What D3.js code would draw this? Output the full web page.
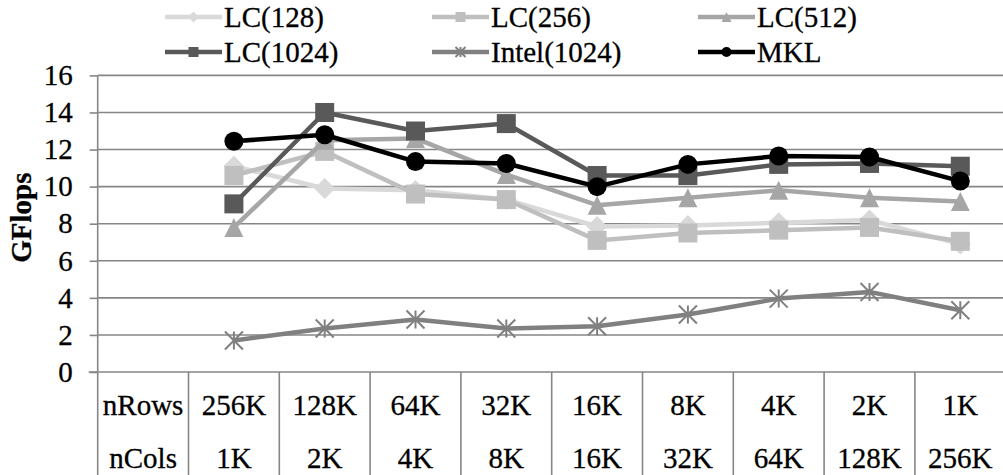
<!DOCTYPE html>
<html>
<head>
<meta charset="utf-8">
<script src="https://cdn.jsdelivr.net/npm/d3@7"></script>
<style>
  html, body { margin: 0; padding: 0; background: #fff; }
  svg { display: block; }
</style>
</head>
<body>
<svg id="chart" width="1003" height="475"></svg>
<script>
// Problem shapes (rows x cols) along the x axis
const rowLabels = ["256K", "128K", "64K", "32K", "16K", "8K", "4K", "2K", "1K"];
const colLabels = ["1K", "2K", "4K", "8K", "16K", "32K", "64K", "128K", "256K"];
const rowHeader = "nRows";
const colHeader = "nCols";

// Performance in GFlops
const lc128   = [11.1, 9.9, 9.8, 9.3, 7.85, 7.9, 8.05, 8.2, 6.9];
const lc256   = [10.6, 11.9, 9.6, 9.3, 7.1, 7.5, 7.65, 7.8, 7.05];
const lc512   = [7.8, 12.5, 12.6, 10.65, 9.0, 9.4, 9.8, 9.4, 9.2];
const lc1024  = [9.07, 14.0, 13.0, 13.4, 10.6, 10.6, 11.2, 11.25, 11.1];
const intel1024 = [1.7, 2.35, 2.83, 2.35, 2.47, 3.1, 3.96, 4.32, 3.33];
const mkl     = [12.45, 12.8, 11.35, 11.25, 10.0, 11.2, 11.65, 11.6, 10.3];

const yTicks = [0, 2, 4, 6, 8, 10, 12, 14, 16];

const series = [
  { name: "LC(128)",     values: lc128,     color: "#d9d9d9", marker: "diamond" },
  { name: "LC(256)",     values: lc256,     color: "#bfbfbf", marker: "square" },
  { name: "LC(512)",     values: lc512,     color: "#a6a6a6", marker: "triangle" },
  { name: "LC(1024)",    values: lc1024,    color: "#595959", marker: "square" },
  { name: "Intel(1024)", values: intel1024, color: "#808080", marker: "star" },
  { name: "MKL",         values: mkl,       color: "#000000", marker: "circle" }
];

const svg = d3.select("#chart");
const FONT = 29;
const SERIF = '"Liberation Serif", "Times New Roman", serif';
const gridColor = "#868686";

function serifText(sel) {
  return sel.style("font-family", SERIF).style("font-size", FONT + "px")
    .attr("fill", "#000").attr("stroke", "#000").attr("stroke-width", 0.3);
}

// First band holds the row/column headers of the data table
const x = d3.scaleBand()
  .domain([rowHeader].concat(rowLabels))
  .range([97.7, 1005.7])
  .padding(0);

const y = d3.scaleLinear().domain([0, 16]).range([372, 75.4]);

const tableBottom = 475;

// Horizontal gridlines
svg.append("g")
  .selectAll("line")
  .data(yTicks.filter(d => d > 0))
  .join("line")
  .attr("x1", x.range()[0]).attr("x2", x.range()[1])
  .attr("y1", d => y(d)).attr("y2", d => y(d))
  .attr("stroke", gridColor).attr("stroke-width", 1.6);

// Y axis with outward ticks
const yAxis = d3.axisLeft(y).tickValues(yTicks).tickSize(8).tickPadding(17).tickFormat(d3.format("d"));
const yg = svg.append("g").attr("transform", `translate(${x.range()[0]},0)`).call(yAxis);
yg.attr("font-family", null).attr("font-size", null);
yg.select(".domain").remove();
yg.selectAll(".tick line").attr("stroke", gridColor).attr("stroke-width", 1.6);
serifText(yg.selectAll(".tick text"));

// Vertical axis line running down through the table
svg.append("line")
  .attr("x1", x.range()[0]).attr("x2", x.range()[0])
  .attr("y1", y(16)).attr("y2", tableBottom)
  .attr("stroke", gridColor).attr("stroke-width", 1.6);

// Category axis line
svg.append("line")
  .attr("x1", x.range()[0] - 9).attr("x2", x.range()[1])
  .attr("y1", y(0)).attr("y2", y(0))
  .attr("stroke", gridColor).attr("stroke-width", 1.6);

// Table column separators
svg.append("g")
  .selectAll("line")
  .data(x.domain().slice(1))
  .join("line")
  .attr("x1", d => x(d)).attr("x2", d => x(d))
  .attr("y1", y(0)).attr("y2", tableBottom)
  .attr("stroke", gridColor).attr("stroke-width", 1.6);

// Table cell text
const rowsText = [rowHeader].concat(rowLabels);
const colsText = [colHeader].concat(colLabels);
const tbl = svg.append("g").attr("text-anchor", "middle");
serifText(tbl.selectAll("text.r")
  .data(rowsText)
  .join("text")
  .attr("class", "r")
  .attr("x", (d, i) => x(x.domain()[i]) + x.bandwidth() / 2)
  .attr("y", 415)
  .text(d => d));
serifText(tbl.selectAll("text.c")
  .data(colsText)
  .join("text")
  .attr("class", "c")
  .attr("x", (d, i) => x(x.domain()[i]) + x.bandwidth() / 2)
  .attr("y", 468)
  .text(d => d));

// Y axis title
serifText(svg.append("text")
  .attr("transform", `translate(31,${(y(0) + y(16)) / 2 - 6}) rotate(-90)`)
  .attr("text-anchor", "middle")
  .style("font-weight", "bold")
  .text("GFlops"));

// Marker drawing
function drawMarker(g, type, color, size) {
  const s = size;
  if (type === "circle") {
    g.append("circle").attr("r", s / 2).attr("fill", color);
  } else if (type === "square") {
    g.append("rect").attr("x", -s / 2).attr("y", -s / 2).attr("width", s).attr("height", s).attr("fill", color);
  } else if (type === "diamond") {
    const h = s * 0.55;
    g.append("path").attr("d", `M0,${-h}L${h},0L0,${h}L${-h},0Z`).attr("fill", color);
  } else if (type === "triangle") {
    const h = s / 2;
    g.append("path").attr("d", `M0,${-h}L${h},${h}L${-h},${h}Z`).attr("fill", color);
  } else if (type === "star") {
    const h = s / 2;
    g.append("path")
      .attr("d", `M${-h},${-h}L${h},${h}M${-h},${h}L${h},${-h}M0,${-h}L0,${h}`)
      .attr("stroke", color).attr("stroke-width", 2).attr("fill", "none");
  }
}

const line = d3.line()
  .x((d, i) => x(rowLabels[i]) + x.bandwidth() / 2)
  .y(d => y(d));

const plot = svg.append("g");
series.forEach(s => {
  const g = plot.append("g");
  g.append("path")
    .attr("d", line(s.values))
    .attr("fill", "none")
    .attr("stroke", s.color)
    .attr("stroke-width", 4.5)
    .attr("stroke-linejoin", "round");
  s.values.forEach((v, i) => {
    const mg = g.append("g")
      .attr("transform", `translate(${x(rowLabels[i]) + x.bandwidth() / 2},${y(v)})`);
    drawMarker(mg, s.marker, s.color, s.marker === "star" ? 18 : 19);
  });
});

// Legend: two rows of three entries
const legendCols = [165, 432, 698];
const legendRows = [17, 52];
const legend = svg.append("g");
series.forEach((s, i) => {
  const lx = legendCols[i % 3];
  const ly = legendRows[Math.floor(i / 3)];
  const g = legend.append("g").attr("transform", `translate(${lx},${ly})`);
  g.append("line").attr("x1", 0).attr("x2", 57).attr("y1", 0).attr("y2", 0)
    .attr("stroke", s.color).attr("stroke-width", 4.5);
  const mg = g.append("g").attr("transform", "translate(28.5,0)");
  drawMarker(mg, s.marker, s.color, 10);
  serifText(g.append("text")
    .attr("x", 59).attr("y", 0)
    .attr("dy", "0.34em")
    .text(s.name));
});
</script>
</body>
</html>
